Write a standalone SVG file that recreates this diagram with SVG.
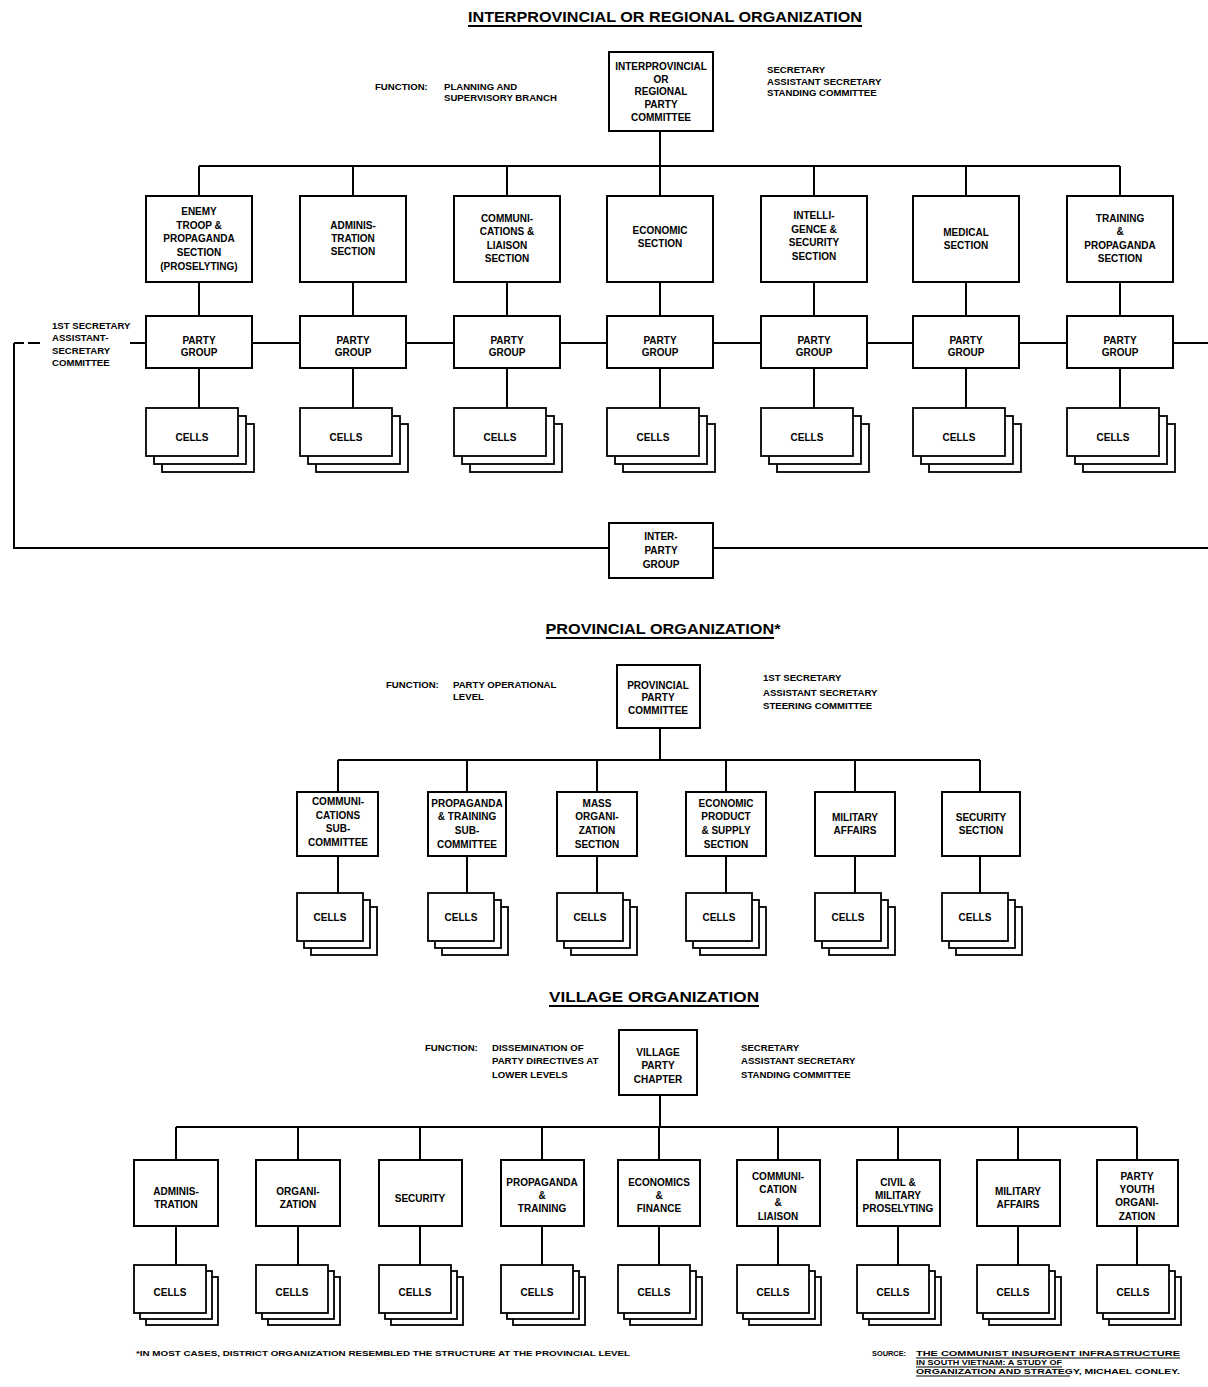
<svg xmlns="http://www.w3.org/2000/svg" xmlns:xlink="http://www.w3.org/1999/xlink" width="1208" height="1387" viewBox="0 0 1208 1387">
<style>
.bx{fill:#fff;stroke:#000;stroke-width:2}
.cl{fill:#fff;stroke:#000;stroke-width:1.8}
.ln{stroke:#000;stroke-width:2;fill:none}
text{font-family:"Liberation Sans",Arial,sans-serif;font-weight:bold;fill:#000}
.t{font-size:10px;text-anchor:middle}
.s{font-size:9.6px;text-anchor:start}
.h{font-size:14px;text-anchor:middle}
.f{font-size:8px;text-anchor:start}
</style>
<defs>
<g id="cellA"><rect class="cl" x="16" y="16" width="92" height="48"/><rect class="cl" x="8" y="8" width="92" height="48"/><rect class="cl" x="0" y="0" width="92" height="48"/></g>
<g id="cellB"><rect class="cl" x="14" y="14" width="66" height="48"/><rect class="cl" x="7" y="7" width="66" height="48"/><rect class="cl" x="0" y="0" width="66" height="48"/></g>
<g id="cellC"><rect class="cl" x="12" y="12" width="72" height="48"/><rect class="cl" x="6" y="6" width="72" height="48"/><rect class="cl" x="0" y="0" width="72" height="48"/></g>
</defs>
<rect width="1208" height="1387" fill="#fff"/>

<!-- Titles and side labels -->
<g id="titles">
<text class="h" x="665" y="22" textLength="394" lengthAdjust="spacingAndGlyphs">INTERPROVINCIAL OR REGIONAL ORGANIZATION</text>
<line class="ln" x1="468" y1="26" x2="862" y2="26"/>
<text class="h" x="663" y="634" textLength="235" lengthAdjust="spacingAndGlyphs">PROVINCIAL ORGANIZATION*</text>
<line class="ln" x1="546" y1="638" x2="774" y2="638"/>
<text class="h" x="654" y="1002" textLength="210" lengthAdjust="spacingAndGlyphs">VILLAGE ORGANIZATION</text>
<line class="ln" x1="549" y1="1006" x2="759" y2="1006"/>
</g>
<g id="labels">
<text class="s" x="375" y="90">FUNCTION:</text>
<text class="s" x="444" y="90">PLANNING AND</text>
<text class="s" x="444" y="101">SUPERVISORY BRANCH</text>
<text class="s" x="767" y="73">SECRETARY</text>
<text class="s" x="767" y="85">ASSISTANT SECRETARY</text>
<text class="s" x="767" y="96">STANDING COMMITTEE</text>
<text class="s" x="52" y="329">1ST SECRETARY</text>
<text class="s" x="52" y="341">ASSISTANT-</text>
<text class="s" x="52" y="354">SECRETARY</text>
<text class="s" x="52" y="366">COMMITTEE</text>
<text class="s" x="386" y="688">FUNCTION:</text>
<text class="s" x="453" y="688">PARTY OPERATIONAL</text>
<text class="s" x="453" y="700">LEVEL</text>
<text class="s" x="763" y="681">1ST SECRETARY</text>
<text class="s" x="763" y="696">ASSISTANT SECRETARY</text>
<text class="s" x="763" y="709">STEERING COMMITTEE</text>
<text class="s" x="425" y="1051">FUNCTION:</text>
<text class="s" x="492" y="1051">DISSEMINATION OF</text>
<text class="s" x="492" y="1064">PARTY DIRECTIVES AT</text>
<text class="s" x="492" y="1078">LOWER LEVELS</text>
<text class="s" x="741" y="1051">SECRETARY</text>
<text class="s" x="741" y="1064">ASSISTANT SECRETARY</text>
<text class="s" x="741" y="1078">STANDING COMMITTEE</text>
</g>

<!-- Connectors -->
<g id="connectors">
<path class="ln" d="M660 131V166M199 166H1120M199 166V196M353 166V196M507 166V196M660 166V196M814 166V196M966 166V196M1120 166V196"/>
<path class="ln" d="M199 282V408M353 282V408M507 282V408M660 282V408M814 282V408M966 282V408M1120 282V408"/>
<path class="ln" d="M130 343H1208"/>
<path class="ln" d="M14 343H24M28 343H40M14 343V548H1208"/>
<path class="ln" d="M660 728V760M338 760H980M338 760V792M467 760V792M597 760V792M726 760V792M855 760V792M980 760V792"/>
<path class="ln" d="M338 856V893M467 856V893M597 856V893M726 856V893M855 856V893M980 856V893"/>
<path class="ln" d="M660 1095V1127M176 1127H1137M176 1127V1160M298 1127V1160M420 1127V1160M542 1127V1160M659 1127V1160M778 1127V1160M898 1127V1160M1018 1127V1160M1137 1127V1160"/>
<path class="ln" d="M176 1226V1265M298 1226V1265M420 1226V1265M542 1226V1265M659 1226V1265M778 1226V1265M898 1226V1265M1018 1226V1265M1137 1226V1265"/>
</g>

<!-- Interprovincial nodes -->
<g id="n-interprov"><rect class="bx" x="609" y="52" width="104" height="79"/>
<text class="t" x="661" y="70">INTERPROVINCIAL</text><text class="t" x="661" y="83">OR</text><text class="t" x="661" y="95">REGIONAL</text><text class="t" x="661" y="108">PARTY</text><text class="t" x="661" y="121">COMMITTEE</text></g>

<g id="n-enemy"><rect class="bx" x="146" y="196" width="106" height="86"/>
<text class="t" x="199" y="215">ENEMY</text><text class="t" x="199" y="229">TROOP &amp;</text><text class="t" x="199" y="242">PROPAGANDA</text><text class="t" x="199" y="256">SECTION</text><text class="t" x="199" y="270">(PROSELYTING)</text></g>
<g id="n-admin"><rect class="bx" x="300" y="196" width="106" height="86"/>
<text class="t" x="353" y="229">ADMINIS-</text><text class="t" x="353" y="242">TRATION</text><text class="t" x="353" y="255">SECTION</text></g>
<g id="n-comm"><rect class="bx" x="454" y="196" width="106" height="86"/>
<text class="t" x="507" y="222">COMMUNI-</text><text class="t" x="507" y="235">CATIONS &amp;</text><text class="t" x="507" y="249">LIAISON</text><text class="t" x="507" y="262">SECTION</text></g>
<g id="n-econ"><rect class="bx" x="607" y="196" width="106" height="86"/>
<text class="t" x="660" y="234">ECONOMIC</text><text class="t" x="660" y="247">SECTION</text></g>
<g id="n-intel"><rect class="bx" x="761" y="196" width="106" height="86"/>
<text class="t" x="814" y="219">INTELLI-</text><text class="t" x="814" y="233">GENCE &amp;</text><text class="t" x="814" y="246">SECURITY</text><text class="t" x="814" y="260">SECTION</text></g>
<g id="n-medical"><rect class="bx" x="913" y="196" width="106" height="86"/>
<text class="t" x="966" y="236">MEDICAL</text><text class="t" x="966" y="249">SECTION</text></g>
<g id="n-training"><rect class="bx" x="1067" y="196" width="106" height="86"/>
<text class="t" x="1120" y="222">TRAINING</text><text class="t" x="1120" y="235">&amp;</text><text class="t" x="1120" y="249">PROPAGANDA</text><text class="t" x="1120" y="262">SECTION</text></g>

<g id="n-pg1"><rect class="bx" x="146" y="316" width="106" height="52"/><text class="t" x="199" y="344">PARTY</text><text class="t" x="199" y="356">GROUP</text></g>
<g id="n-pg2"><rect class="bx" x="300" y="316" width="106" height="52"/><text class="t" x="353" y="344">PARTY</text><text class="t" x="353" y="356">GROUP</text></g>
<g id="n-pg3"><rect class="bx" x="454" y="316" width="106" height="52"/><text class="t" x="507" y="344">PARTY</text><text class="t" x="507" y="356">GROUP</text></g>
<g id="n-pg4"><rect class="bx" x="607" y="316" width="106" height="52"/><text class="t" x="660" y="344">PARTY</text><text class="t" x="660" y="356">GROUP</text></g>
<g id="n-pg5"><rect class="bx" x="761" y="316" width="106" height="52"/><text class="t" x="814" y="344">PARTY</text><text class="t" x="814" y="356">GROUP</text></g>
<g id="n-pg6"><rect class="bx" x="913" y="316" width="106" height="52"/><text class="t" x="966" y="344">PARTY</text><text class="t" x="966" y="356">GROUP</text></g>
<g id="n-pg7"><rect class="bx" x="1067" y="316" width="106" height="52"/><text class="t" x="1120" y="344">PARTY</text><text class="t" x="1120" y="356">GROUP</text></g>

<g id="c-t1"><use xlink:href="#cellA" x="146" y="408"/><text class="t" x="192" y="441">CELLS</text></g>
<g id="c-t2"><use xlink:href="#cellA" x="300" y="408"/><text class="t" x="346" y="441">CELLS</text></g>
<g id="c-t3"><use xlink:href="#cellA" x="454" y="408"/><text class="t" x="500" y="441">CELLS</text></g>
<g id="c-t4"><use xlink:href="#cellA" x="607" y="408"/><text class="t" x="653" y="441">CELLS</text></g>
<g id="c-t5"><use xlink:href="#cellA" x="761" y="408"/><text class="t" x="807" y="441">CELLS</text></g>
<g id="c-t6"><use xlink:href="#cellA" x="913" y="408"/><text class="t" x="959" y="441">CELLS</text></g>
<g id="c-t7"><use xlink:href="#cellA" x="1067" y="408"/><text class="t" x="1113" y="441">CELLS</text></g>

<g id="n-interparty"><rect class="bx" x="609" y="523" width="104" height="55"/>
<text class="t" x="661" y="540">INTER-</text><text class="t" x="661" y="554">PARTY</text><text class="t" x="661" y="568">GROUP</text></g>

<!-- Provincial nodes -->
<g id="n-prov"><rect class="bx" x="617" y="665" width="83" height="63"/>
<text class="t" x="658" y="689">PROVINCIAL</text><text class="t" x="658" y="701">PARTY</text><text class="t" x="658" y="714">COMMITTEE</text></g>
<g id="p-comm"><rect class="bx" x="297" y="792" width="81" height="64"/>
<text class="t" x="338" y="805">COMMUNI-</text><text class="t" x="338" y="819">CATIONS</text><text class="t" x="338" y="832">SUB-</text><text class="t" x="338" y="846">COMMITTEE</text></g>
<g id="p-prop"><rect class="bx" x="428" y="792" width="78" height="64"/>
<text class="t" x="467" y="807">PROPAGANDA</text><text class="t" x="467" y="820">&amp; TRAINING</text><text class="t" x="467" y="834">SUB-</text><text class="t" x="467" y="848">COMMITTEE</text></g>
<g id="p-mass"><rect class="bx" x="557" y="792" width="80" height="64"/>
<text class="t" x="597" y="807">MASS</text><text class="t" x="597" y="820">ORGANI-</text><text class="t" x="597" y="834">ZATION</text><text class="t" x="597" y="848">SECTION</text></g>
<g id="p-econ"><rect class="bx" x="686" y="792" width="80" height="64"/>
<text class="t" x="726" y="807">ECONOMIC</text><text class="t" x="726" y="820">PRODUCT</text><text class="t" x="726" y="834">&amp; SUPPLY</text><text class="t" x="726" y="848">SECTION</text></g>
<g id="p-mil"><rect class="bx" x="815" y="792" width="80" height="64"/>
<text class="t" x="855" y="821">MILITARY</text><text class="t" x="855" y="834">AFFAIRS</text></g>
<g id="p-sec"><rect class="bx" x="942" y="792" width="78" height="64"/>
<text class="t" x="981" y="821">SECURITY</text><text class="t" x="981" y="834">SECTION</text></g>

<g id="c-p1"><use xlink:href="#cellB" x="297" y="893"/><text class="t" x="330" y="921">CELLS</text></g>
<g id="c-p2"><use xlink:href="#cellB" x="428" y="893"/><text class="t" x="461" y="921">CELLS</text></g>
<g id="c-p3"><use xlink:href="#cellB" x="557" y="893"/><text class="t" x="590" y="921">CELLS</text></g>
<g id="c-p4"><use xlink:href="#cellB" x="686" y="893"/><text class="t" x="719" y="921">CELLS</text></g>
<g id="c-p5"><use xlink:href="#cellB" x="815" y="893"/><text class="t" x="848" y="921">CELLS</text></g>
<g id="c-p6"><use xlink:href="#cellB" x="942" y="893"/><text class="t" x="975" y="921">CELLS</text></g>

<!-- Village nodes -->
<g id="n-village"><rect class="bx" x="619" y="1030" width="78" height="65"/>
<text class="t" x="658" y="1056">VILLAGE</text><text class="t" x="658" y="1069">PARTY</text><text class="t" x="658" y="1083">CHAPTER</text></g>
<g id="v-admin"><rect class="bx" x="134" y="1160" width="84" height="66"/>
<text class="t" x="176" y="1195">ADMINIS-</text><text class="t" x="176" y="1208">TRATION</text></g>
<g id="v-org"><rect class="bx" x="256" y="1160" width="84" height="66"/>
<text class="t" x="298" y="1195">ORGANI-</text><text class="t" x="298" y="1208">ZATION</text></g>
<g id="v-sec"><rect class="bx" x="379" y="1160" width="83" height="66"/>
<text class="t" x="420" y="1202">SECURITY</text></g>
<g id="v-prop"><rect class="bx" x="501" y="1160" width="83" height="66"/>
<text class="t" x="542" y="1186">PROPAGANDA</text><text class="t" x="542" y="1199">&amp;</text><text class="t" x="542" y="1212">TRAINING</text></g>
<g id="v-econ"><rect class="bx" x="618" y="1160" width="82" height="66"/>
<text class="t" x="659" y="1186">ECONOMICS</text><text class="t" x="659" y="1199">&amp;</text><text class="t" x="659" y="1212">FINANCE</text></g>
<g id="v-comm"><rect class="bx" x="737" y="1160" width="83" height="66"/>
<text class="t" x="778" y="1180">COMMUNI-</text><text class="t" x="778" y="1193">CATION</text><text class="t" x="778" y="1206">&amp;</text><text class="t" x="778" y="1220">LIAISON</text></g>
<g id="v-civil"><rect class="bx" x="857" y="1160" width="83" height="66"/>
<text class="t" x="898" y="1186">CIVIL &amp;</text><text class="t" x="898" y="1199">MILITARY</text><text class="t" x="898" y="1212">PROSELYTING</text></g>
<g id="v-mil"><rect class="bx" x="977" y="1160" width="83" height="66"/>
<text class="t" x="1018" y="1195">MILITARY</text><text class="t" x="1018" y="1208">AFFAIRS</text></g>
<g id="v-youth"><rect class="bx" x="1097" y="1160" width="81" height="66"/>
<text class="t" x="1137" y="1180">PARTY</text><text class="t" x="1137" y="1193">YOUTH</text><text class="t" x="1137" y="1206">ORGANI-</text><text class="t" x="1137" y="1220">ZATION</text></g>

<g id="c-v1"><use xlink:href="#cellC" x="134" y="1265"/><text class="t" x="170" y="1296">CELLS</text></g>
<g id="c-v2"><use xlink:href="#cellC" x="256" y="1265"/><text class="t" x="292" y="1296">CELLS</text></g>
<g id="c-v3"><use xlink:href="#cellC" x="379" y="1265"/><text class="t" x="415" y="1296">CELLS</text></g>
<g id="c-v4"><use xlink:href="#cellC" x="501" y="1265"/><text class="t" x="537" y="1296">CELLS</text></g>
<g id="c-v5"><use xlink:href="#cellC" x="618" y="1265"/><text class="t" x="654" y="1296">CELLS</text></g>
<g id="c-v6"><use xlink:href="#cellC" x="737" y="1265"/><text class="t" x="773" y="1296">CELLS</text></g>
<g id="c-v7"><use xlink:href="#cellC" x="857" y="1265"/><text class="t" x="893" y="1296">CELLS</text></g>
<g id="c-v8"><use xlink:href="#cellC" x="977" y="1265"/><text class="t" x="1013" y="1296">CELLS</text></g>
<g id="c-v9"><use xlink:href="#cellC" x="1097" y="1265"/><text class="t" x="1133" y="1296">CELLS</text></g>

<!-- Footer -->
<g id="footer">
<text class="f" x="136" y="1356" textLength="494" lengthAdjust="spacingAndGlyphs">*IN MOST CASES, DISTRICT ORGANIZATION RESEMBLED THE STRUCTURE AT THE PROVINCIAL LEVEL</text>
<text class="f" x="872" y="1356" textLength="34" lengthAdjust="spacingAndGlyphs">SOURCE:</text>
<text class="f" x="916" y="1356" textLength="264" lengthAdjust="spacingAndGlyphs">THE COMMUNIST INSURGENT INFRASTRUCTURE</text>
<line x1="916" y1="1358" x2="1180" y2="1358" stroke="#000" stroke-width="1.2"/>
<text class="f" x="916" y="1365" textLength="146" lengthAdjust="spacingAndGlyphs">IN SOUTH VIETNAM: A STUDY OF</text>
<line x1="916" y1="1367" x2="1062" y2="1367" stroke="#000" stroke-width="1.2"/>
<text class="f" x="916" y="1374" textLength="264" lengthAdjust="spacingAndGlyphs">ORGANIZATION AND STRATEGY, MICHAEL CONLEY.</text>
<line x1="916" y1="1376" x2="1070" y2="1376" stroke="#000" stroke-width="1.2"/>
</g>
</svg>
